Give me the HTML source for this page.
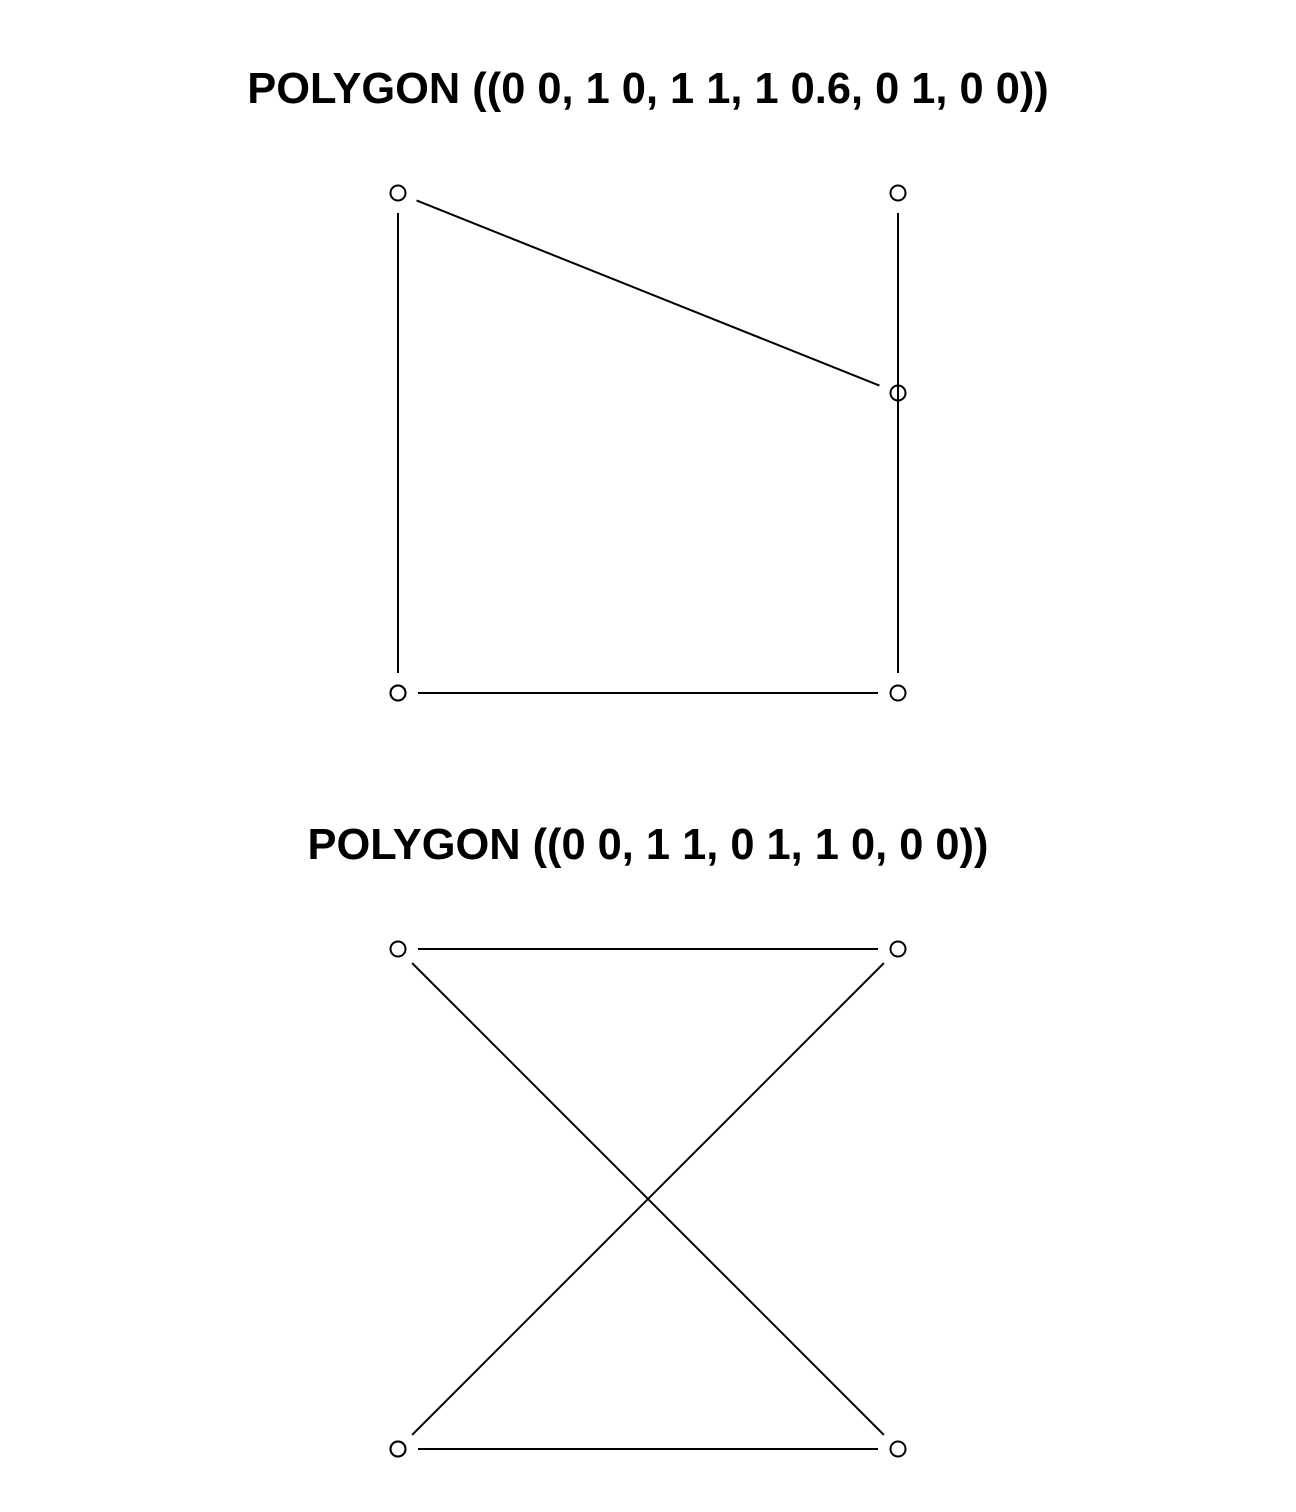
<!DOCTYPE html>
<html><head><meta charset="utf-8"><style>
html,body{margin:0;padding:0;background:#fff;}
svg{display:block;}
text{font-family:"Liberation Sans",Arial,sans-serif;font-weight:bold;font-size:43.4px;fill:#000;}
</style></head><body>
<svg id="chart" width="1296" height="1512" viewBox="0 0 1296 1512" xmlns="http://www.w3.org/2000/svg"></svg>
<script>
const titleTop = "POLYGON ((0 0, 1 0, 1 1, 1 0.6, 0 1, 0 0))";
const xTop = [0, 1, 1, 1, 0, 0];
const yTop = [0, 0, 1, 0.6, 1, 0];
const titleBottom = "POLYGON ((0 0, 1 1, 0 1, 1 0, 0 0))";
const xBottom = [0, 1, 0, 1, 0];
const yBottom = [0, 1, 1, 0, 0];

const NS = "http://www.w3.org/2000/svg";
const svg = document.getElementById('chart');
const GAP = 20, R = 7.5;

function panel(name, title, xs, ys, y0, titleY) {
  const g = document.createElementNS(NS, 'g');
  
  
  svg.appendChild(g);
  const sx = v => 398 + 500 * v;
  const sy = v => y0 - 500 * v;
  const t = document.createElementNS(NS, 'text');
  
  
  t.setAttribute('x', 648); t.setAttribute('y', titleY);
  t.setAttribute('text-anchor', 'middle');
  t.textContent = title;
  g.appendChild(t);
  for (let i = 0; i < xs.length - 1; i++) {
    const x1 = sx(xs[i]), y1 = sy(ys[i]), x2 = sx(xs[i+1]), y2 = sy(ys[i+1]);
    const d = Math.hypot(x2 - x1, y2 - y1);
    if (d <= 2 * GAP) continue;
    const ux = (x2 - x1) / d, uy = (y2 - y1) / d;
    const l = document.createElementNS(NS, 'line');
    
    
    l.setAttribute('x1', x1 + ux * GAP); l.setAttribute('y1', y1 + uy * GAP);
    l.setAttribute('x2', x2 - ux * GAP); l.setAttribute('y2', y2 - uy * GAP);
    l.setAttribute('stroke', '#000'); l.setAttribute('stroke-width', 2);
    g.appendChild(l);
  }
  for (let i = 0; i < xs.length; i++) {
    const c = document.createElementNS(NS, 'circle');
    
    
    c.setAttribute('cx', sx(xs[i])); c.setAttribute('cy', sy(ys[i]));
    c.setAttribute('r', R);
    c.setAttribute('fill', 'none'); c.setAttribute('stroke', '#000'); c.setAttribute('stroke-width', 2);
    g.appendChild(c);
  }
}
panel('top-panel', titleTop, xTop, yTop, 693, 103);
panel('bottom-panel', titleBottom, xBottom, yBottom, 1449, 859);
</script>
</body></html>
